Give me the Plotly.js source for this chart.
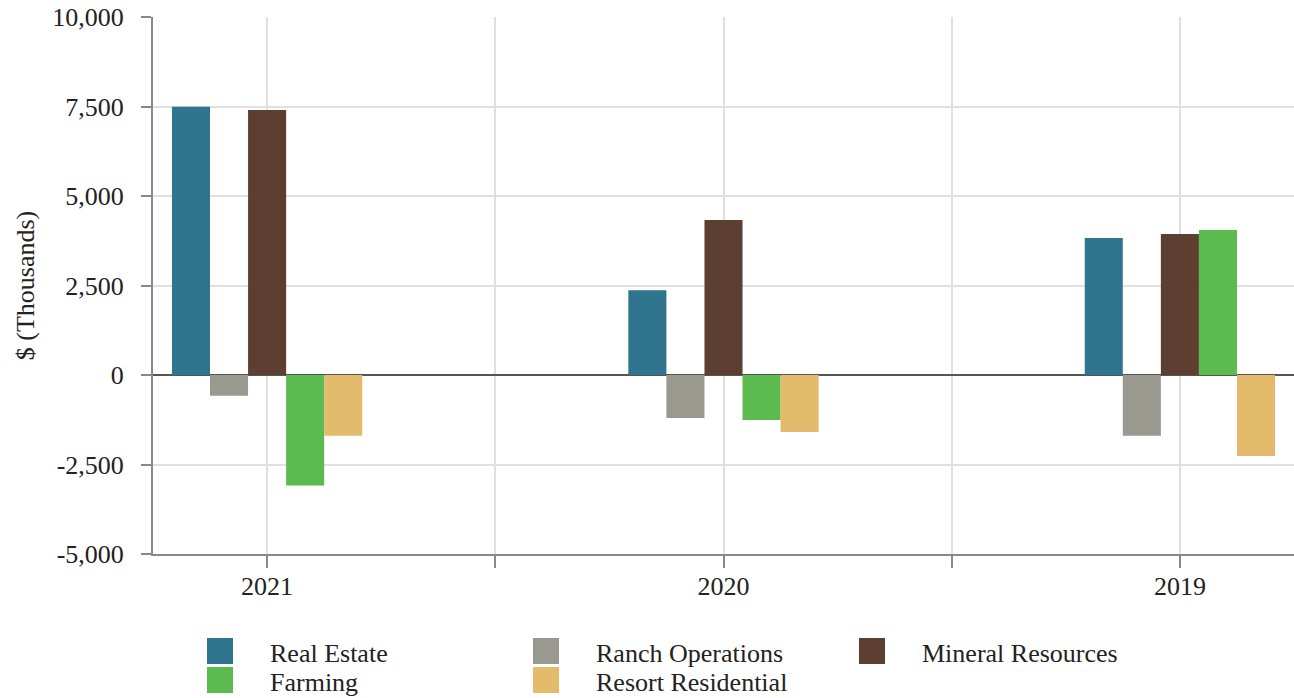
<!DOCTYPE html>
<html>
<head>
<meta charset="utf-8">
<script src="https://cdn.plot.ly/plotly-3.0.1.min.js"></script>
<style>
  html, body { margin: 0; padding: 0; background: #ffffff; }
  #chart { width: 1294px; height: 698px; }
</style>
</head>
<body>
<div id="chart"></div>
<script>
// ---- data (in $ thousands) ----
const categories = ['2021', '2020', '2019'];
const seriesNames = ['Real Estate', 'Ranch Operations', 'Mineral Resources', 'Farming', 'Resort Residential'];
const realEstate = [7490, 2370, 3830];
const ranchOperations = [-580, -1200, -1700];
const mineralResources = [7400, 4330, 3940];
const farming = [-3090, -1260, 4050];
const resortResidential = [-1700, -1590, -2260];
const seriesColors = ['#30758f', '#999990', '#5c3f30', '#5cbb4f', '#e4ba6c'];
const yTickValues = [-5000, -2500, 0, 2500, 5000, 7500, 10000];
const yTickLabels = ['-5,000', '-2,500', '0', '2,500', '5,000', '7,500', '10,000'];
const yAxisTitle = '$ (Thousands)';

// ---- layout helpers ----
const W = 1294, H = 698;
const M = { l: 153, r: 0, t: 17, b: 144 };
const plotW = W - M.l - M.r, plotH = H - M.t - M.b;
const px2x = px => (px - M.l) / plotW;
const py2y = py => (H - M.b - py) / plotH;
const FONT = 'Liberation Serif, Times New Roman, serif';
const FS = 26;

const seriesValues = [realEstate, ranchOperations, mineralResources, farming, resortResidential];
const xIdx = categories.map((c, i) => i);

const traces = seriesNames.map((name, k) => ({
  type: 'bar',
  name: name,
  x: xIdx,
  y: seriesValues[k],
  marker: { color: seriesColors[k], line: { width: 0 } },
  showlegend: false,
  hoverinfo: 'y+name'
}));

// tick positions at centres and boundaries
const xTickVals = [], xTickText = [];
categories.forEach((c, i) => {
  xTickVals.push(i); xTickText.push(c);
  if (i < categories.length - 1) { xTickVals.push(i + 0.5); xTickText.push(''); }
});

// custom legend (3 columns, 2 rows)
const shapes = [], annotations = [];
const colX = [207, 533, 859];
const rowY = [638, 667];
const sw = 26;
seriesNames.forEach((name, k) => {
  const col = k % 3, row = Math.floor(k / 3);
  const x0 = colX[col], y0 = rowY[row];
  shapes.push({
    type: 'rect', xref: 'paper', yref: 'paper',
    x0: px2x(x0), x1: px2x(x0 + sw), y0: py2y(y0 + sw), y1: py2y(y0),
    fillcolor: seriesColors[k], line: { width: 0 }
  });
  annotations.push({
    xref: 'paper', yref: 'paper', x: px2x(x0 + 61), y: py2y(y0 + sw / 2 + 2),
    xanchor: 'left', yanchor: 'middle', showarrow: false,
    text: name, font: { family: FONT, size: FS, color: '#222222' }
  });
});

const layout = {
  width: W, height: H,
  margin: M,
  paper_bgcolor: '#ffffff', plot_bgcolor: '#ffffff',
  font: { family: FONT, size: FS, color: '#222222' },
  barmode: 'group',
  bargap: 0.583,
  bargroupgap: 0,
  showlegend: false,
  xaxis: {
    type: 'linear',
    range: [-0.25, 2.25],
    tickvals: xTickVals, ticktext: xTickText,
    ticks: 'outside', ticklen: 12, tickwidth: 2, tickcolor: '#888888',
    showline: true, linecolor: '#888888', linewidth: 2,
    showgrid: true, gridcolor: '#e0e0e0', gridwidth: 2,
    zeroline: false,
    ticklabelstandoff: -4,
    tickfont: { family: FONT, size: FS, color: '#222222' },
    fixedrange: true
  },
  yaxis: {
    range: [-5000, 10000],
    tickvals: yTickValues, ticktext: yTickLabels,
    ticks: 'outside', ticklen: 10, tickwidth: 2, tickcolor: '#888888',
    showline: true, linecolor: '#888888', linewidth: 2,
    showgrid: true, gridcolor: '#e0e0e0', gridwidth: 2,
    zeroline: true, zerolinecolor: '#555555', zerolinewidth: 2,
    ticklabelstandoff: 12,
    tickfont: { family: FONT, size: FS, color: '#222222' },
    title: { text: yAxisTitle, font: { family: FONT, size: FS, color: '#222222' }, standoff: 10 },
    fixedrange: true
  },
  shapes: shapes,
  annotations: annotations
};

Plotly.newPlot('chart', traces, layout, { displayModeBar: false, staticPlot: true });
</script>
</body>
</html>
